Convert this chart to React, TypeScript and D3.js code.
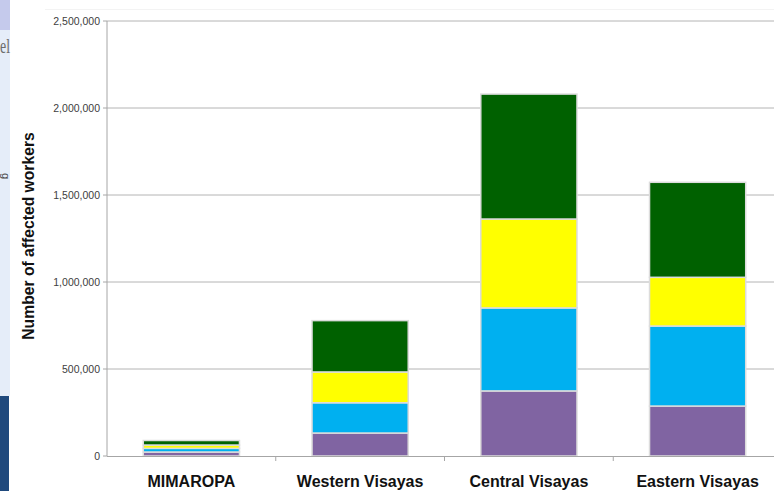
import React from 'react';
import * as d3 from 'd3';

// regions on the x axis
const categories = ['MIMAROPA', 'Western Visayas', 'Central Visayas', 'Eastern Visayas'];

// stacked segments, bottom to top (number of affected workers)
const seriesKeys = ['purple', 'blue', 'yellow', 'green'];
const purpleValues = [23000, 132000, 374000, 287000];
const blueValues = [21000, 174000, 477000, 460000];
const yellowValues = [19000, 177000, 511000, 280000];
const greenValues = [26000, 295000, 718000, 546000];
const seriesColors = ['#8064a2', '#00b0f0', '#ffff00', '#006100'];

const yTicks = [0, 500000, 1000000, 1500000, 2000000, 2500000];

const width = 774;
const height = 491;
const margin = { top: 21, right: -8, bottom: 35, left: 107 };

export default function App() {
  const rows = categories.map((c, i) => ({
    category: c,
    purple: purpleValues[i],
    blue: blueValues[i],
    yellow: yellowValues[i],
    green: greenValues[i],
  }));

  const stacked = d3.stack<any>().keys(seriesKeys)(rows);

  const x = d3.scaleBand()
    .domain(categories)
    .range([margin.left, width - margin.right])
    .paddingInner(0.43)
    .paddingOuter(0.215);

  const y = d3.scaleLinear()
    .domain([0, 2500000])
    .range([height - margin.bottom, margin.top]);

  const fmt = d3.format(',');
  const x0 = margin.left;
  const x1 = width - margin.right;
  const yBase = y(0);

  return (
    <svg
      width={width}
      height={height}
      style={{ position: 'absolute', left: 0, top: 0, background: '#fff' }}
      fontFamily="Liberation Sans, Arial, sans-serif"
    >
      {/* slide background strip on the left */}
      <rect x={0} y={0} width={10} height={30} fill="#c5caec" />
      <rect x={0} y={30} width={10} height={366} fill="#e5edf9" />
      <rect x={0} y={396} width={9} height={95} fill="#1f497d" />
      <text x={0} y={53} textLength={10} lengthAdjust="spacingAndGlyphs" fontFamily="Liberation Serif, serif" fontSize={20} fill="#6b6b6b">el</text>
      <text transform="translate(2,176) rotate(90)" textAnchor="middle" fontSize={11} fill="#444">g</text>
      <line x1={45} x2={width} y1={9.5} y2={9.5} stroke="#f3f3f3" />

      {/* gridlines and y axis */}
      {yTicks.map(t => (
        <g key={t}>
          {t > 0 && <line x1={x0} x2={x1} y1={y(t)} y2={y(t)} stroke="#b4b4b4" strokeWidth={1} />}
          <line x1={x0 - 4} x2={x0} y1={y(t)} y2={y(t)} stroke="#a6a6a6" />
          <text x={x0 - 7} y={y(t)} dy="0.35em" textAnchor="end" fontSize={10.5} fill="#404040">
            {fmt(t)}
          </text>
        </g>
      ))}
      <line x1={x0} x2={x0} y1={y(2500000)} y2={yBase} stroke="#a6a6a6" />

      {/* bars */}
      {stacked.map((s, si) => (
        <g key={s.key} fill={seriesColors[si]}>
          {s.map((d, i) => (
            <rect
              key={i}
              x={x(categories[i])}
              y={y(d[1])}
              width={x.bandwidth()}
              height={y(d[0]) - y(d[1])}
              stroke="#dcdcdc"
              strokeWidth={1.5}
            />
          ))}
        </g>
      ))}

      {/* x axis */}
      <line x1={x0} x2={x1} y1={yBase + 0.5} y2={yBase + 0.5} stroke="#a6a6a6" />
      {categories.map((c, i) => (
        <g key={c}>
          {i > 0 && (
            <line
              x1={x0 + x.step() * i}
              x2={x0 + x.step() * i}
              y1={yBase}
              y2={yBase + 5}
              stroke="#a6a6a6"
            />
          )}
          <text
            x={(x(c) as number) + x.bandwidth() / 2}
            y={487}
            textAnchor="middle"
            fontSize={16}
            fontWeight="bold"
            fill="#111"
          >
            {c}
          </text>
        </g>
      ))}

      {/* y axis title */}
      <text
        transform={`translate(34,236) rotate(-90)`}
        textAnchor="middle"
        fontSize={15.7}
        fontWeight="bold"
        fill="#111"
      >
        Number of affected workers
      </text>
    </svg>
  );
}
